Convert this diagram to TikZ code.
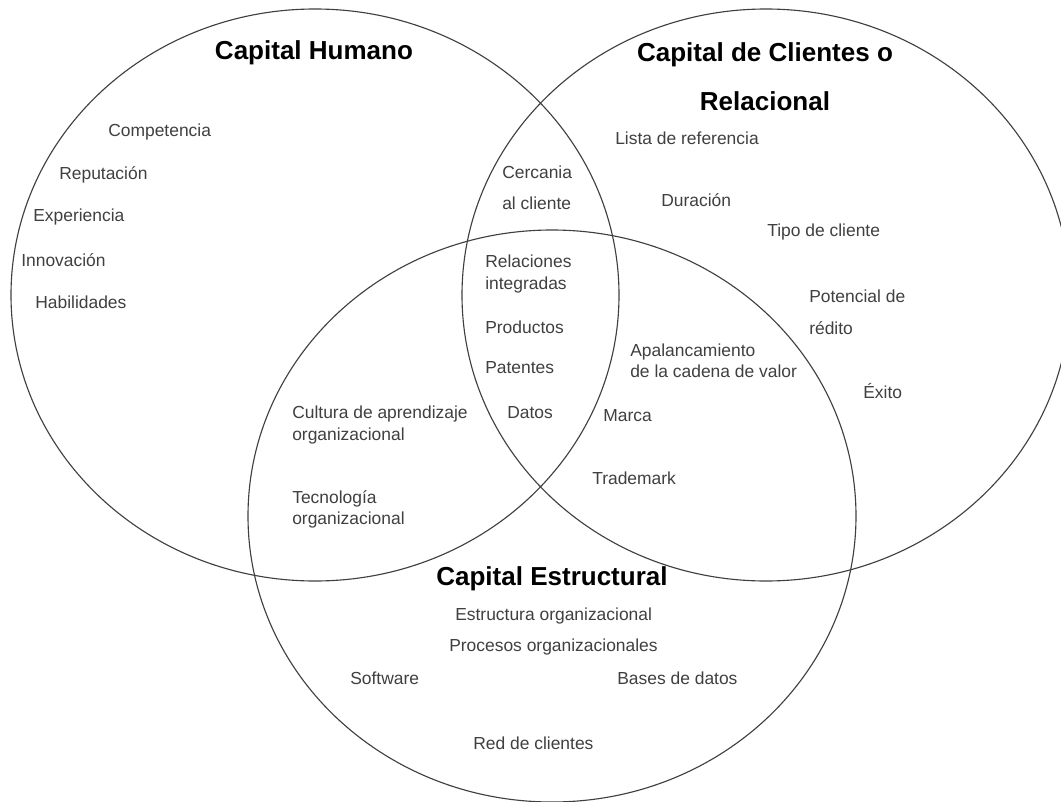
\documentclass[tikz,border=0pt]{standalone}
\usepackage{fontspec}
\setmainfont{Liberation Sans}
\usepackage{xcolor}
\usepackage{tikz}
\tikzset{
    venn/.style = {draw=black!75, line width=0.8pt},
    title/.style = {align=center, inner sep=0pt, text centered, black, font=\fontsize{18.5}{35}\selectfont\bfseries},
    item/.style = {align=left, inner sep=0pt, anchor=west, text=black!75, font=\fontsize{12.4}{15}\selectfont}
}

\begin{document}
\begin{tikzpicture}
            [x=0.025cm, y=-0.025cm]

            \fill[white] (0,0) rectangle (1061,802);
            \clip (0,0) rectangle (1061,802);

            % the three capitals
            \coordinate (humano) at (315,295);
            \coordinate (relacional) at (766,295);
            \coordinate (estructural) at (552,516);
            \draw[venn] (humano) ellipse [x radius=304, y radius=286];
            \draw[venn] (relacional) ellipse [x radius=304, y radius=286];
            \draw[venn] (estructural) ellipse [x radius=304, y radius=286];

            \node [title] (t_humano) at (314,53) {Capital Humano};
            \node [title] (t_relacional) at (765,77) {Capital de Clientes o\\Relacional};
            \node [title] (t_estructural) at (552,579) {Capital Estructural};

            % capital humano
            \node [item] (competencia) at (108,132) {Competencia};
            \node [item] (reputacion) at (59,175) {Reputación};
            \node [item] (experiencia) at (33,217) {Experiencia};
            \node [item] (innovacion) at (21,260) {Innovación};
            \node [item] (habilidades) at (35,302) {Habilidades};

            % capital relacional
            \node [item] (lista) at (615,138) {Lista de referencia};
            \node [item] (duracion) at (661,200) {Duración};
            \node [item] (tipo) at (767,232) {Tipo de cliente};
            \node [item] (potencial) at (809,312) {Potencial de\\[7.5pt]rédito};
            \node [item] (exito) at (863,391) {Éxito};

            % intersections
            \node [item] (cercania) at (502,188) {Cercania\\[7pt]al cliente};
            \node [item] (relaciones) at (485,274) {Relaciones\\integradas};
            \node [item] (productos) at (485,327) {Productos};
            \node [item] (patentes) at (485,368) {Patentes};
            \node [item] (datos) at (507,413) {Datos};
            \node [item] (apalanca) at (630,361) {Apalancamiento\\de la cadena de valor};
            \node [item] (marca) at (603,416) {Marca};
            \node [item] (trademark) at (592,478) {Trademark};
            \node [item] (cultura) at (292,425) {Cultura de aprendizaje\\organizacional};
            \node [item] (tecnologia) at (292,509) {Tecnología\\organizacional};

            % capital estructural
            \node [item] (estructura) at (455,616) {Estructura organizacional};
            \node [item] (procesos) at (449,647) {Procesos organizacionales};
            \node [item] (software) at (350,678) {Software};
            \node [item] (bases) at (617,678) {Bases de datos};
            \node [item] (red) at (473,743) {Red de clientes};
        \end{tikzpicture}
\end{document}
